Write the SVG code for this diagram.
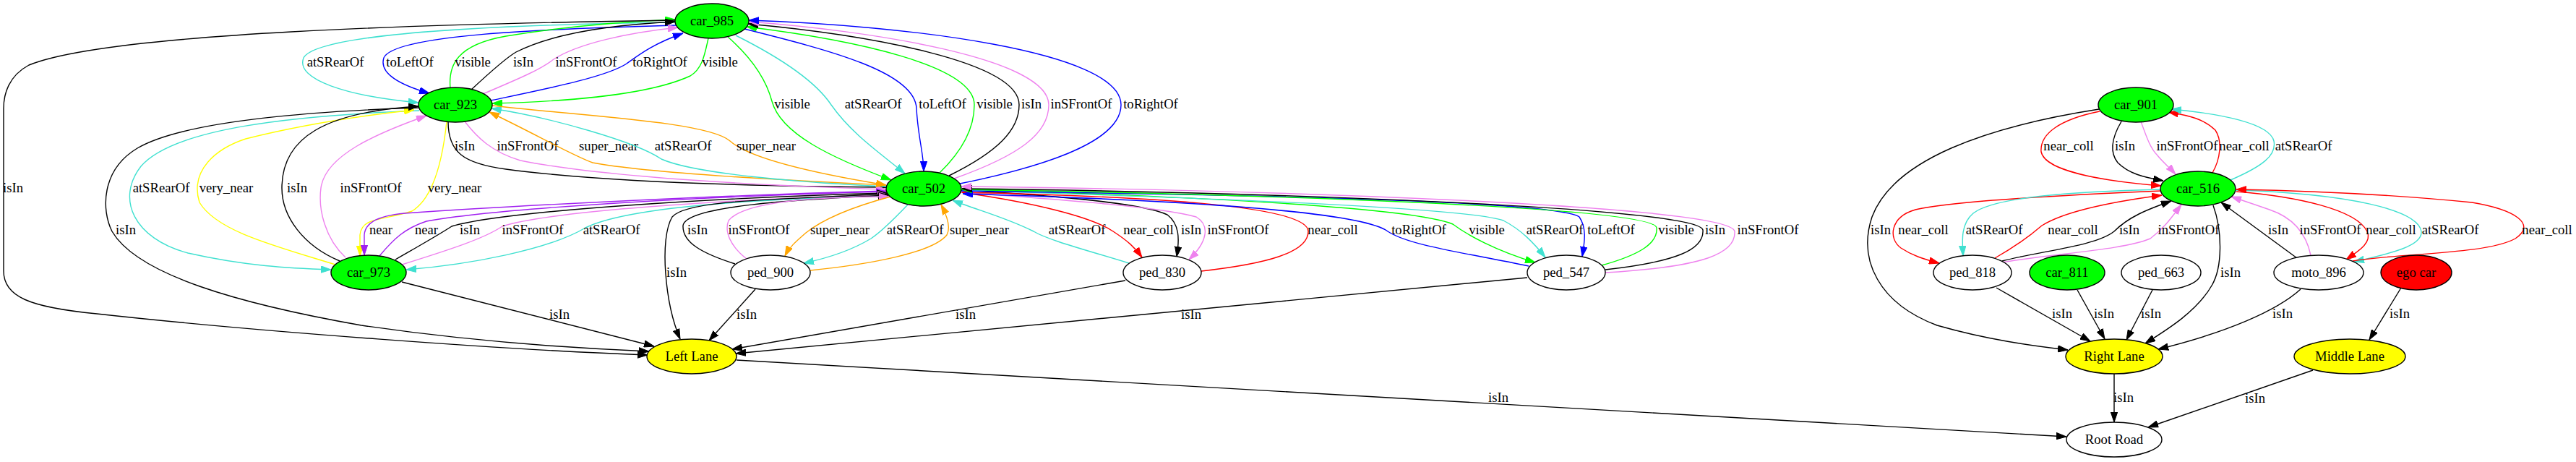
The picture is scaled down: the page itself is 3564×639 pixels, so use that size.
<svg xmlns="http://www.w3.org/2000/svg" width="3564" height="639" viewBox="0 0 3564 639">
<style>
.e{fill:none;stroke-width:1.4}
.k{stroke:#000;marker-end:url(#mk)}
.t{stroke:#40e0d0;marker-end:url(#mt)}
.b{stroke:#0000ff;marker-end:url(#mb)}
.g{stroke:#00ff00;marker-end:url(#mg)}
.v{stroke:#ee82ee;marker-end:url(#mv)}
.o{stroke:#ffa500;marker-end:url(#mo)}
.y{stroke:#ffff00;marker-end:url(#my)}
.p{stroke:#a020f0;marker-end:url(#mp)}
.r{stroke:#ff0000;marker-end:url(#mr)}
text{font-family:"Liberation Serif","Times New Roman",serif;font-size:18.67px;text-anchor:middle;fill:#000}
.n{stroke:#000;stroke-width:1.4}
.gr{fill:#00ff00}.ye{fill:#ffff00}.wh{fill:#fff}.rd{fill:#ff0000}
</style>
<defs>
<marker id="mk" viewBox="0 0 14 10" refX="14" refY="5" markerWidth="14" markerHeight="10" markerUnits="userSpaceOnUse" orient="auto"><path d="M0,0.3 L14,5 L0,9.7 z" fill="#000" stroke="#000"/></marker>
<marker id="mt" viewBox="0 0 14 10" refX="14" refY="5" markerWidth="14" markerHeight="10" markerUnits="userSpaceOnUse" orient="auto"><path d="M0,0.3 L14,5 L0,9.7 z" fill="#40e0d0" stroke="#40e0d0"/></marker>
<marker id="mb" viewBox="0 0 14 10" refX="14" refY="5" markerWidth="14" markerHeight="10" markerUnits="userSpaceOnUse" orient="auto"><path d="M0,0.3 L14,5 L0,9.7 z" fill="#0000ff" stroke="#0000ff"/></marker>
<marker id="mg" viewBox="0 0 14 10" refX="14" refY="5" markerWidth="14" markerHeight="10" markerUnits="userSpaceOnUse" orient="auto"><path d="M0,0.3 L14,5 L0,9.7 z" fill="#00ff00" stroke="#00ff00"/></marker>
<marker id="mv" viewBox="0 0 14 10" refX="14" refY="5" markerWidth="14" markerHeight="10" markerUnits="userSpaceOnUse" orient="auto"><path d="M0,0.3 L14,5 L0,9.7 z" fill="#ee82ee" stroke="#ee82ee"/></marker>
<marker id="mo" viewBox="0 0 14 10" refX="14" refY="5" markerWidth="14" markerHeight="10" markerUnits="userSpaceOnUse" orient="auto"><path d="M0,0.3 L14,5 L0,9.7 z" fill="#ffa500" stroke="#ffa500"/></marker>
<marker id="my" viewBox="0 0 14 10" refX="14" refY="5" markerWidth="14" markerHeight="10" markerUnits="userSpaceOnUse" orient="auto"><path d="M0,0.3 L14,5 L0,9.7 z" fill="#ffff00" stroke="#ffff00"/></marker>
<marker id="mp" viewBox="0 0 14 10" refX="14" refY="5" markerWidth="14" markerHeight="10" markerUnits="userSpaceOnUse" orient="auto"><path d="M0,0.3 L14,5 L0,9.7 z" fill="#a020f0" stroke="#a020f0"/></marker>
<marker id="mr" viewBox="0 0 14 10" refX="14" refY="5" markerWidth="14" markerHeight="10" markerUnits="userSpaceOnUse" orient="auto"><path d="M0,0.3 L14,5 L0,9.7 z" fill="#ff0000" stroke="#ff0000"/></marker>
</defs>
<rect width="3564" height="639" fill="#fff"/>
<g id="edges">
<path class="e t" d="M934 31 C700 34 440 45 420 80 C408 110 480 133 579 142"/><text x="464" y="92">atSRearOf</text>
<path class="e b" d="M935 35 C750 40 545 48 531 80 C524 102 555 118 594 129"/><text x="567" y="92">toLeftOf</text>
<path class="e g" d="M623 122 C620 90 632 62 700 50 C780 37 860 30 934 27"/><text x="654" y="92">visible</text>
<path class="e k" d="M652 124 C680 98 700 80 714 72 C765 46 850 34 934 30"/><text x="724" y="92">isIn</text>
<path class="e v" d="M668 130 C720 108 748 96 766 82 C800 60 870 45 938 38"/><text x="811" y="92">inSFrontOf</text>
<path class="e b" d="M679 139 C760 122 840 106 867 88 C885 75 905 60 945 46"/><text x="913" y="92">toRightOf</text>
<path class="e g" d="M980 53 C975 75 972 95 955 105 C890 135 760 141 681 143"/><text x="996" y="92">visible</text>
<path class="e g" d="M1007 51 C1040 80 1060 110 1068 140 C1080 185 1150 218 1233 249"/><text x="1096" y="150">visible</text>
<path class="e t" d="M1018 49 C1080 80 1128 112 1150 145 C1178 185 1218 212 1252 240"/><text x="1208" y="150">atSRearOf</text>
<path class="e b" d="M1030 40 C1150 70 1266 100 1268 150 C1270 190 1278 212 1278 237"/><text x="1304" y="150">toLeftOf</text>
<path class="e g" d="M1300 239 C1330 210 1348 180 1348 145 C1348 90 1180 55 1033 37"/><text x="1376" y="150">visible</text>
<path class="e k" d="M1313 243 C1380 210 1410 180 1410 145 C1410 85 1200 48 1035 33"/><text x="1427" y="150">isIn</text>
<path class="e v" d="M1320 247 C1410 215 1451 185 1451 145 C1451 80 1200 42 1036 30"/><text x="1496" y="150">inSFrontOf</text>
<path class="e b" d="M1328 254 C1470 225 1551 190 1551 145 C1551 70 1250 35 1036 28"/><text x="1592" y="150">toRightOf</text>
<path class="e k" d="M620 168 C620 210 640 226 700 234 C850 254 1100 258 1226 259"/><text x="643" y="208">isIn</text>
<path class="e v" d="M643 168 C660 190 680 210 720 222 C850 248 1100 258 1226 262"/><text x="730" y="208">inSFrontOf</text>
<path class="e o" d="M1226 256 C1100 250 900 240 820 225 C790 214 740 185 677 155"/><text x="842" y="208">super_near</text>
<path class="e t" d="M1226 258 C1100 252 960 240 915 220 C880 196 760 162 680 150"/><text x="945" y="208">atSRearOf</text>
<path class="e o" d="M681 146 C800 160 980 168 1010 195 C1040 222 1140 242 1226 256"/><text x="1060" y="208">super_near</text>
<path class="e t" d="M580 153 C400 160 240 178 195 230 C160 275 185 330 260 350 C340 368 400 371 458 373"/><text x="223" y="266">atSRearOf</text>
<path class="e y" d="M464 366 C380 340 300 320 276 280 C262 235 300 205 340 192 C420 172 500 160 573 152"/><text x="313" y="266">very_near</text>
<path class="e k" d="M470 361 C420 340 390 300 390 260 C390 190 450 155 579 147"/><text x="411" y="266">isIn</text>
<path class="e v" d="M478 356 C450 330 440 290 444 260 C450 215 520 185 590 160"/><text x="513" y="266">inSFrontOf</text>
<path class="e y" d="M618 168 C612 225 598 275 570 292 C530 305 500 300 498 325 L498 354"/><text x="629" y="266">very_near</text>
<path class="e p" d="M1226 264 C1000 270 700 285 560 295 C518 299 505 310 504 325 L504 353"/><text x="527" y="324">near</text>
<path class="e p" d="M525 354 C545 330 560 316 590 306 C700 286 1000 271 1226 265"/><text x="590" y="324">near</text>
<path class="e k" d="M547 359 C580 340 605 326 625 313 C700 291 1000 273 1227 267"/><text x="650" y="324">isIn</text>
<path class="e v" d="M556 366 C620 346 670 330 695 313 C760 292 1000 276 1228 269"/><text x="737" y="324">inSFrontOf</text>
<path class="e t" d="M1228 271 C1000 276 860 290 810 315 C760 345 650 366 562 373"/><text x="846" y="324">atSRearOf</text>
<path class="e k" d="M1017 365 C970 350 944 335 945 312 C948 285 1100 276 1229 270"/><text x="965" y="324">isIn</text>
<path class="e k" d="M1229 268 C1080 276 950 276 930 300 C912 330 920 420 941 469"/><text x="936" y="383">isIn</text>
<path class="e v" d="M1033 358 C1010 340 1002 320 1008 305 C1030 278 1130 272 1230 272"/><text x="1050" y="324">inSFrontOf</text>
<path class="e o" d="M1232 272 C1180 286 1140 302 1115 322 C1100 335 1092 342 1086 354"/><text x="1162" y="324">super_near</text>
<path class="e t" d="M1256 283 C1235 305 1220 320 1205 330 C1180 345 1150 356 1112 364"/><text x="1266" y="324">atSRearOf</text>
<path class="e o" d="M1121 374 C1200 366 1290 350 1310 325 C1316 314 1310 298 1302 283"/><text x="1355" y="324">super_near</text>
<path class="e t" d="M1562 364 C1500 345 1450 332 1430 320 C1390 300 1350 290 1318 277"/><text x="1490" y="324">atSRearOf</text>
<path class="e r" d="M1329 266 C1430 280 1510 300 1540 320 C1560 333 1570 342 1580 356"/><text x="1589" y="324">near_coll</text>
<path class="e k" d="M1329 263 C1450 270 1580 280 1615 297 C1632 310 1632 330 1628 355"/><text x="1648" y="324">isIn</text>
<path class="e v" d="M1330 266 C1450 275 1600 285 1655 300 C1675 312 1670 335 1645 359"/><text x="1713" y="324">inSFrontOf</text>
<path class="e r" d="M1662 375 C1750 365 1810 350 1810 320 C1810 285 1600 272 1331 266"/><text x="1844" y="324">near_coll</text>
<path class="e b" d="M2115 368 C2030 350 1950 340 1920 320 C1880 290 1600 276 1332 268"/><text x="1963" y="324">toRightOf</text>
<path class="e g" d="M1330 262 C1600 270 1950 285 2010 310 C2030 325 2070 347 2124 363"/><text x="2057" y="324">visible</text>
<path class="e t" d="M1330 263 C1600 272 2020 285 2080 305 C2105 318 2122 336 2138 356"/><text x="2151" y="324">atSRearOf</text>
<path class="e b" d="M1330 264 C1600 268 2150 275 2185 300 C2195 315 2193 332 2189 355"/><text x="2229" y="324">toLeftOf</text>
<path class="e g" d="M2216 367 C2270 352 2294 336 2292 315 C2288 285 1700 268 1331 262"/><text x="2319" y="324">visible</text>
<path class="e k" d="M2221 373 C2320 362 2358 345 2356 318 C2350 285 1700 265 1331 261"/><text x="2373" y="324">isIn</text>
<path class="e v" d="M2221 377 C2360 369 2402 350 2400 320 C2395 282 1700 262 1330 258"/><text x="2446" y="324">inSFrontOf</text>
<path class="e k" d="M934 28 C600 33 150 45 40 90 C12 105 5 130 5 150 L5 375 C5 410 40 425 134 434 C350 458 700 484 896 491"/><text x="18" y="266">isIn</text>
<path class="e k" d="M579 149 C400 155 250 170 190 205 C140 235 140 290 155 320 C190 380 330 420 500 450 C650 472 800 482 898 486"/><text x="174" y="324">isIn</text>
<path class="e k" d="M556 390 L905 479"/><text x="774" y="441">isIn</text>
<path class="e k" d="M1045 400 L981 471"/><text x="1033" y="441">isIn</text>
<path class="e k" d="M1557 388 L1013 483"/><text x="1336" y="441">isIn</text>
<path class="e k" d="M2113 384 L1018 489"/><text x="1648" y="441">isIn</text>
<path class="e k" d="M1019 498 L2859 604"/><text x="2073" y="556">isIn</text>
<path class="e r" d="M2905 154 C2850 165 2822 185 2824 210 C2830 240 2930 252 2990 257"/><text x="2862" y="208">near_coll</text>
<path class="e k" d="M2935 168 C2922 190 2918 210 2930 225 C2945 240 2965 245 2993 250"/><text x="2940" y="208">isIn</text>
<path class="e v" d="M2962 168 C2970 190 2975 205 2985 215 C2993 225 3000 230 3010 241"/><text x="3026" y="208">inSFrontOf</text>
<path class="e r" d="M3061 239 C3072 220 3075 195 3065 180 C3050 165 3030 160 3000 155"/><text x="3105" y="208">near_coll</text>
<path class="e t" d="M3086 249 C3130 230 3150 215 3146 195 C3140 170 3070 157 3004 151"/><text x="3187" y="208">atSRearOf</text>
<path class="e k" d="M2904 151 C2750 175 2620 220 2590 300 C2570 360 2600 420 2680 450 C2750 470 2810 478 2861 484"/><text x="2602" y="324">isIn</text>
<path class="e r" d="M2990 264 C2850 270 2700 278 2650 290 C2615 300 2612 330 2630 343 C2645 353 2660 358 2683 364"/><text x="2661" y="324">near_coll</text>
<path class="e t" d="M2990 262 C2870 265 2760 272 2730 295 C2712 310 2715 335 2716 354"/><text x="2759" y="324">atSRearOf</text>
<path class="e r" d="M2760 357 C2790 340 2810 325 2825 312 C2860 290 2930 278 2991 270"/><text x="2868" y="324">near_coll</text>
<path class="e k" d="M2770 361 C2830 346 2900 340 2925 320 C2945 300 2970 290 3004 278"/><text x="2946" y="324">isIn</text>
<path class="e v" d="M2768 363 C2850 350 2940 345 2975 330 C2995 315 3005 300 3018 283"/><text x="3028" y="324">inSFrontOf</text>
<path class="e k" d="M3062 284 C3075 320 3075 370 3060 395 C3040 430 3000 455 2968 475"/><text x="3086" y="383">isIn</text>
<path class="e k" d="M3178 357 L3073 280"/><text x="3152" y="324">isIn</text>
<path class="e v" d="M3197 353 C3190 320 3170 300 3140 290 C3120 283 3105 278 3087 272"/><text x="3224" y="324">inSFrontOf</text>
<path class="e r" d="M3094 265 C3180 272 3260 290 3275 320 C3282 335 3265 346 3246 359"/><text x="3308" y="324">near_coll</text>
<path class="e t" d="M3094 263 C3250 268 3345 290 3350 320 C3352 340 3310 350 3257 362"/><text x="3390" y="324">atSRearOf</text>
<path class="e r" d="M3255 361 C3320 350 3440 352 3480 330 C3510 310 3480 290 3420 280 C3300 268 3200 264 3094 262"/><text x="3524" y="324">near_coll</text>
<path class="e k" d="M3183 400 C3150 430 3080 460 2986 483"/><text x="3158" y="440">isIn</text>
<path class="e k" d="M2762 398 L2892 472"/><text x="2853" y="440">isIn</text>
<path class="e k" d="M2874 401 L2912 469"/><text x="2911" y="440">isIn</text>
<path class="e k" d="M2978 401 L2942 470"/><text x="2976" y="440">isIn</text>
<path class="e k" d="M2925 517 L2925 584"/><text x="2938" y="556">isIn</text>
<path class="e k" d="M3200 512 L2972 591"/><text x="3120" y="557">isIn</text>
<path class="e k" d="M3322 398 L3278 470"/><text x="3320" y="440">isIn</text>
</g>
<g id="car_985"><ellipse class="n gr" cx="985" cy="29" rx="51" ry="24"/><text x="985" y="35">car_985</text></g>
<g id="car_923"><ellipse class="n gr" cx="630" cy="145" rx="51" ry="24"/><text x="630" y="151">car_923</text></g>
<g id="car_502"><ellipse class="n gr" cx="1278" cy="261" rx="52" ry="24"/><text x="1278" y="267">car_502</text></g>
<g id="car_973"><ellipse class="n gr" cx="510" cy="377" rx="52" ry="24"/><text x="510" y="383">car_973</text></g>
<g id="ped_900"><ellipse class="n wh" cx="1066" cy="377" rx="55" ry="24"/><text x="1066" y="383">ped_900</text></g>
<g id="ped_830"><ellipse class="n wh" cx="1608" cy="377" rx="54" ry="24"/><text x="1608" y="383">ped_830</text></g>
<g id="ped_547"><ellipse class="n wh" cx="2167" cy="377" rx="54" ry="24"/><text x="2167" y="383">ped_547</text></g>
<g id="left_lane"><ellipse class="n ye" cx="957" cy="493" rx="62" ry="24"/><text x="957" y="499">Left Lane</text></g>
<g id="car_901"><ellipse class="n gr" cx="2955" cy="145" rx="52" ry="24"/><text x="2955" y="151">car_901</text></g>
<g id="car_516"><ellipse class="n gr" cx="3041" cy="261" rx="52" ry="24"/><text x="3041" y="267">car_516</text></g>
<g id="ped_818"><ellipse class="n wh" cx="2729" cy="377" rx="54" ry="24"/><text x="2729" y="383">ped_818</text></g>
<g id="car_811"><ellipse class="n gr" cx="2860" cy="377" rx="52" ry="24"/><text x="2860" y="383">car_811</text></g>
<g id="ped_663"><ellipse class="n wh" cx="2990" cy="377" rx="55" ry="24"/><text x="2990" y="383">ped_663</text></g>
<g id="moto_896"><ellipse class="n wh" cx="3208" cy="377" rx="62" ry="24"/><text x="3208" y="383">moto_896</text></g>
<g id="ego_car"><ellipse class="n rd" cx="3343" cy="377" rx="49" ry="24"/><text x="3343" y="383">ego car</text></g>
<g id="right_lane"><ellipse class="n ye" cx="2925" cy="493" rx="67" ry="24"/><text x="2925" y="499">Right Lane</text></g>
<g id="middle_lane"><ellipse class="n ye" cx="3251" cy="493" rx="77" ry="24"/><text x="3251" y="499">Middle Lane</text></g>
<g id="root_road"><ellipse class="n wh" cx="2925" cy="608" rx="66" ry="24"/><text x="2925" y="614">Root Road</text></g>
</svg>
